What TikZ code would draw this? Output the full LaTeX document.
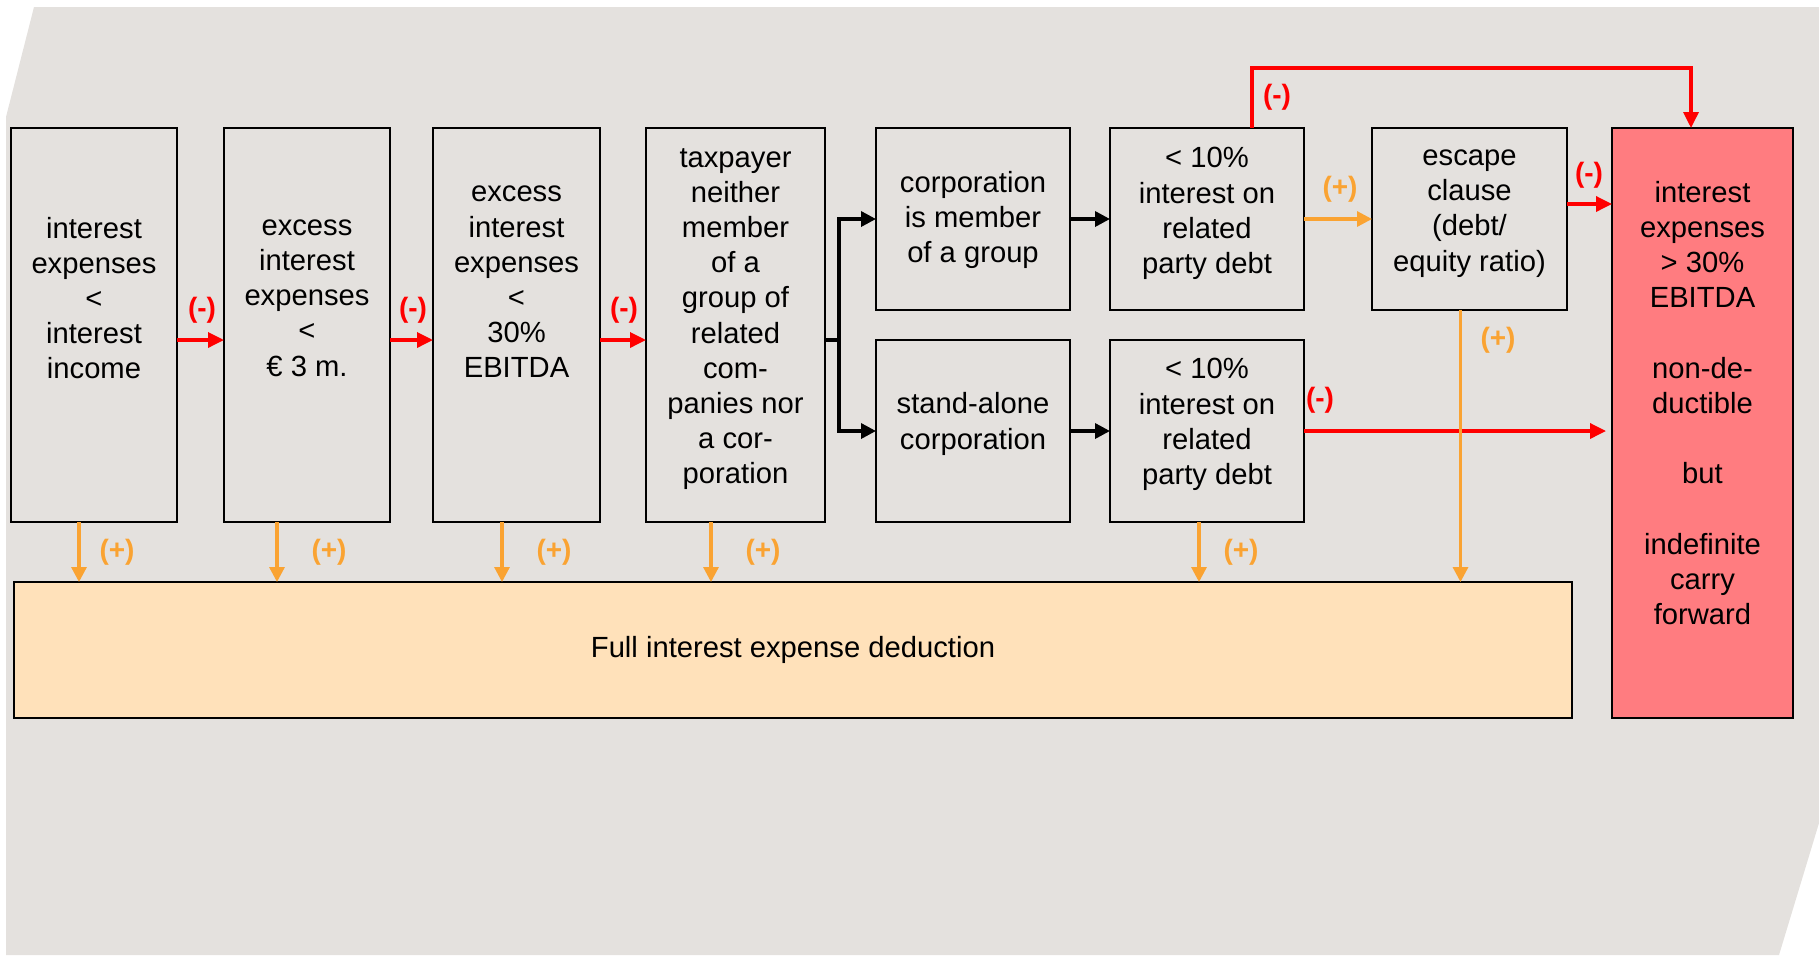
\documentclass[tikz,border=0pt]{standalone}
\usepackage{fontspec}
\setmainfont{Liberation Sans}
\usetikzlibrary{arrows.meta,calc}

\definecolor{bgc}{RGB}{228,225,222}
\definecolor{negc}{RGB}{255,0,0}
\definecolor{posc}{RGB}{250,163,50}
\definecolor{nondeduc}{RGB}{255,124,128}
\definecolor{fullc}{RGB}{255,225,186}

\tikzset{
  box/.style={draw=black, line width=0.9pt, inner sep=0pt, outer sep=0pt},
  txt/.style={align=center, inner sep=0pt, font=\fontsize{14.6}{17.6}\selectfont},
  negarrow/.style={draw=negc, line width=1.7pt, -{Triangle[length=8pt,width=7.5pt]}},
  posarrow/.style={draw=posc, line width=1.6pt, -{Triangle[length=7.5pt,width=7.5pt]}},
  blkarrow/.style={draw=black, line width=1.7pt, -{Triangle[length=7.5pt,width=7.5pt]}},
  blkline/.style={draw=black, line width=1.7pt},
  neglab/.style={text=negc, font=\fontsize{14}{16}\selectfont\bfseries, inner sep=0pt},
  poslab/.style={text=posc, font=\fontsize{14}{16}\selectfont\bfseries, inner sep=0pt},
}

\begin{document}
\begin{tikzpicture}[x=0.5pt, y=-0.5pt]
\useasboundingbox (0,0) rectangle (1819,955);

% backdrop
\fill[bgc] (34,7) -- (1819,7) -- (1819,823) -- (1779,955) -- (6,955) -- (6,117) -- cycle;

% test boxes
\node[box, minimum width=83pt,   minimum height=197pt] (b1) at (94,325) {};
\node[box, minimum width=83pt,   minimum height=197pt] (b2) at (307,325) {};
\node[box, minimum width=83.5pt, minimum height=197pt] (b3) at (516.5,325) {};
\node[box, minimum width=89.5pt, minimum height=197pt] (b4) at (735.5,325) {};
\node[box, minimum width=97pt,   minimum height=91pt] (b5) at (973,219) {};
\node[box, minimum width=97pt,   minimum height=91pt] (b6) at (973,431) {};
\node[box, minimum width=97pt,   minimum height=91pt] (b7) at (1207,219) {};
\node[box, minimum width=97pt,   minimum height=91pt] (b8) at (1207,431) {};
\node[box, minimum width=97.5pt, minimum height=91pt] (b9) at (1469.5,219) {};
\node[box, fill=nondeduc, minimum width=90.5pt, minimum height=295pt] (red) at (1702.5,423) {};
\node[box, fill=fullc, minimum width=779pt, minimum height=68pt] (bot) at (793,650) {};

% box texts
\node[txt] (t1) at (94,298) {interest\\expenses\\<\\interest\\income};
\node[txt] (t2) at (307,298) {excess\\interest\\expenses\\<\\€ 3 m.};
\node[txt] (t3) at (516.5,282) {excess\\interest\\expenses\\<\\30\%\\EBITDA};
\node[txt] (t4) at (735.5,319) {taxpayer\\neither\\member\\of a\\group of\\related\\com-\\panies nor\\a cor-\\poration};
\node[txt] (t5) at (973,220) {corporation\\is member\\of a group};
\node[txt] (t6) at (973,424) {stand-alone\\corporation};
\node[txt] (t7) at (1207,213.5) {< 10\%\\interest on\\related\\party debt};
\node[txt] (t8) at (1207,424.5) {< 10\%\\interest on\\related\\party debt};
\node[txt] (t9) at (1469.5,213.5) {escape\\clause\\(debt/\\equity ratio)};
\node[txt] (tr) at (1702.5,403) {interest\\expenses\\> 30\%\\EBITDA\\[17.6pt]non-de-\\ductible\\[17.6pt]but\\[17.6pt]indefinite\\carry\\forward};
\node[txt] (tb) at (793,650) {Full interest expense deduction};

% main chain of negative answers
\coordinate (mid) at (0,340);
\draw[negarrow] (b1.east |- mid) -- (b2.west |- mid);
\draw[negarrow] (b2.east |- mid) -- (b3.west |- mid);
\draw[negarrow] (b3.east |- mid) -- (b4.west |- mid);
\node[neglab] (m1) at (202,310) {(-)};
\node[neglab] (m2) at (413,310) {(-)};
\node[neglab] (m3) at (624,310) {(-)};

% split into group member / stand-alone
\coordinate (j) at (839,340);
\draw[blkline] (b4.east |- j) -- (j);
\draw[blkarrow] ($(j)+(0,0.8)$) |- (b5.west);
\draw[blkarrow] ($(j)+(0,-0.8)$) |- (b6.west);
\draw[blkarrow] (b5.east) -- (b7.west);
\draw[blkarrow] (b6.east) -- (b8.west);

% routes to non-deductible
\coordinate (rt) at (1691,68);
\draw[negarrow] ($(b7.north)+(45,0)$) |- (rt) -- (red.north -| rt);
\node[neglab] (m4) at (1277,97) {(-)};
\coordinate (e1) at ($(b9.east)+(0,-15)$);
\draw[negarrow] (e1) -- (red.west |- e1);
\node[neglab] (m5) at (1589,175) {(-)};
\draw[negarrow] (b8.east) -- ($(red.west |- b8.east)+(-6,0)$);
\node[neglab] (m6) at (1320,400) {(-)};

% positive answers
\draw[posarrow] (b7.east) -- (b9.west);
\node[poslab] (p6) at (1340,189) {(+)};
\draw[posarrow] ($(b1.south)+(-15,0)$) coordinate (o1) -- (bot.north -| o1);
\draw[posarrow] ($(b2.south)+(-30,0)$) coordinate (o2) -- (bot.north -| o2);
\draw[posarrow] ($(b3.south)+(-14.5,0)$) coordinate (o3) -- (bot.north -| o3);
\draw[posarrow] ($(b4.south)+(-24.5,0)$) coordinate (o4) -- (bot.north -| o4);
\draw[posarrow] ($(b8.south)+(-8,0)$) coordinate (o5) -- (bot.north -| o5);
\draw[posarrow] ($(b9.south)+(-9,0)$) coordinate (o6) -- (bot.north -| o6);
\node[poslab] (p1) at (117,552) {(+)};
\node[poslab] (p2) at (329,552) {(+)};
\node[poslab] (p3) at (554,552) {(+)};
\node[poslab] (p4) at (763,552) {(+)};
\node[poslab] (p5) at (1241,552) {(+)};
\node[poslab] (p7) at (1498,340) {(+)};
\end{tikzpicture}
\end{document}
